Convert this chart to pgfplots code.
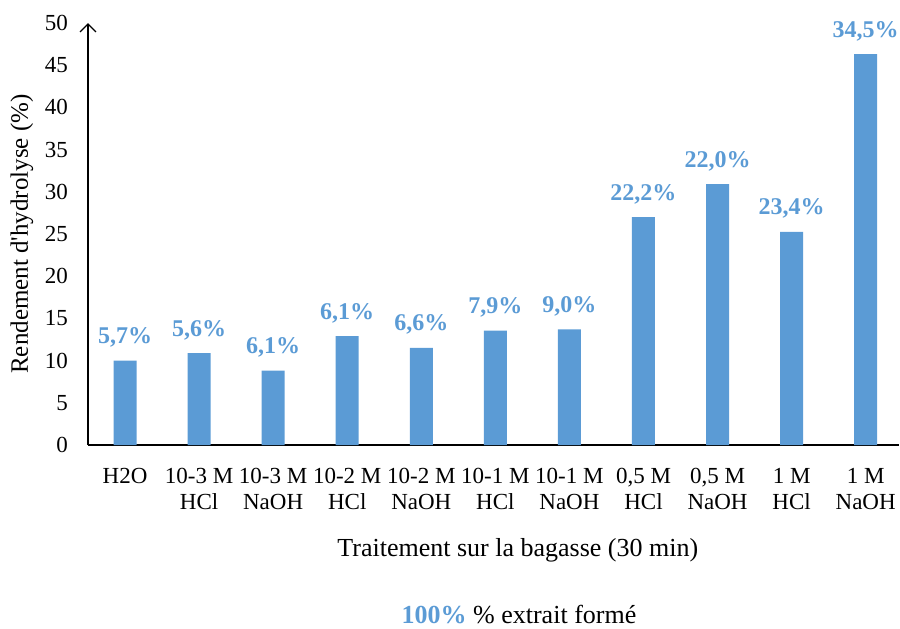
\documentclass[border=0pt]{standalone}
\usepackage{fontspec}
\setmainfont{Liberation Serif}
\usepackage{pgfplots}
\pgfplotsset{compat=1.18}
\usetikzlibrary{arrows.meta}
\definecolor{barblue}{RGB}{91,155,213}
\begin{document}
\begin{tikzpicture}
\begin{axis}[
  name=ax,
  scale only axis, width=811bp, height=422bp,
  xmin=-0.5, xmax=10.45, ymin=0, ymax=50,
  axis lines=left,
  x axis line style={-, line width=1.3bp},
  y axis line style={-{Straight Barb[length=8bp,width=16bp,line width=1.3bp]}, line width=1.3bp},
  ytick={0,5,...,50},
  xtick={0,...,10},
  xticklabels={H2O,{10-3 M\\HCl},{10-3 M\\NaOH},{10-2 M\\HCl},{10-2 M\\NaOH},{10-1 M\\HCl},{10-1 M\\NaOH},{0,5 M\\HCl},{0,5 M\\NaOH},{1 M\\HCl},{1 M\\NaOH}},
  major tick length=0pt,
  /pgf/number format/assume math mode=true,
  yticklabel style={font=\fontsize{23bp}{27bp}\selectfont, anchor=east, inner sep=0pt, xshift=-20bp},
  xticklabel style={font=\fontsize{23bp}{26bp}\selectfont, align=center, anchor=north, inner sep=0pt, yshift=-23bp},
  xlabel={Traitement sur la bagasse (30 min)},
  xlabel style={font=\fontsize{26bp}{30bp}\selectfont, at={(rel axis cs:0.53,0)}, anchor=center, yshift=-105bp},
  ylabel={Rendement d\textquotesingle hydrolyse (\%)},
  ylabel style={font=\fontsize{25bp}{28bp}\selectfont, at={(rel axis cs:0,0.5)}, anchor=center, yshift=66bp},
  ybar, bar width=23bp,
  nodes near coords,
  point meta=explicit symbolic,
  nodes near coords style={font=\fontsize{24bp}{28bp}\selectfont\bfseries, color=barblue, anchor=base, yshift=17bp, inner sep=0pt},
  clip=false,
]
\addplot[fill=barblue, draw=none] coordinates {
  (0,10.0) [5,7\%]
  (1,10.9) [5,6\%]
  (2,8.8) [6,1\%]
  (3,12.9) [6,1\%]
  (4,11.5) [6,6\%]
  (5,13.55) [7,9\%]
  (6,13.7) [9,0\%]
  (7,27.0) [22,2\%]
  (8,30.9) [22,0\%]
  (9,25.25) [23,4\%]
  (10,46.3) [34,5\%]
};
\end{axis}
\node[font=\fontsize{26bp}{30bp}\selectfont] at ([shift={(431bp,-170bp)}]ax.south west) {{\bfseries\color{barblue}100\%} \% extrait formé};
\pgfresetboundingbox
\path ([shift={(-88bp,-184bp)}]ax.south west) rectangle ([shift={(812bp,445bp)}]ax.south west);
\end{tikzpicture}
\end{document}
